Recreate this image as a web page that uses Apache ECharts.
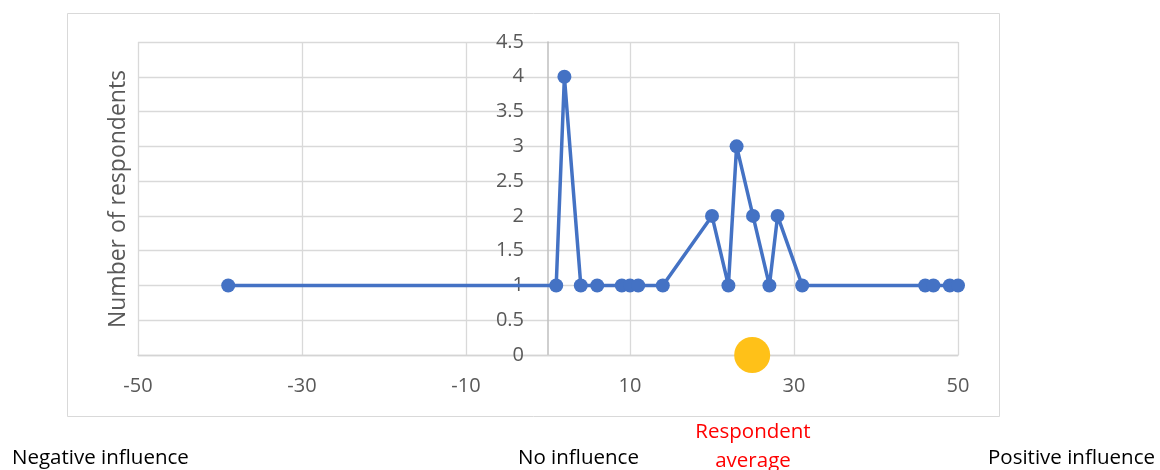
<!DOCTYPE html>
<html>
<head>
<meta charset="utf-8">
<script src="https://cdn.jsdelivr.net/npm/echarts@6/dist/echarts.min.js"></script>
<style>
  html, body { margin: 0; padding: 0; background: #fff; }
  #chart { width: 1160px; height: 470px; }
</style>
</head>
<body>
<div id="chart"></div>
<script>
// Influence score (x) and number of respondents (y)
const influenceScores = [-39, 1, 2, 4, 6, 9, 10, 11, 14, 20, 22, 23, 25, 27, 28, 31, 46, 47, 49, 50];
const respondentCounts = [1, 1, 4, 1, 1, 1, 1, 1, 1, 2, 1, 3, 2, 1, 2, 1, 1, 1, 1, 1];
const respondentAverage = [24.9];
const averageLevel = [0];
const yAxisTitle = 'Number of respondents';
const bottomLabels = ['Negative influence', 'No influence', 'Respondent\naverage', 'Positive influence'];

const lineData = influenceScores.map((x, i) => [x, respondentCounts[i]]);
const avgData = respondentAverage.map((x, i) => [x, averageLevel[i]]);

const FONT = '"Open Sans", "Liberation Sans", sans-serif';
const chart = echarts.init(document.getElementById('chart'), null, { renderer: 'canvas' });
chart.setOption({
  animation: false,
  backgroundColor: '#ffffff',
  grid: { left: 138, right: 202, top: 42, bottom: 115, containLabel: false },
  xAxis: {
    type: 'value', min: -50, max: 50, interval: 20,
    axisLine: { show: true, onZero: false, lineStyle: { color: '#D4D4D4', width: 1.3 } },
    axisTick: { show: false },
    splitLine: { show: true, lineStyle: { color: '#D9D9D9', width: 1.3 } },
    axisLabel: { color: '#595959', fontSize: 20, fontFamily: FONT, margin: 21 }
  },
  yAxis: {
    type: 'value', min: 0, max: 4.5, interval: 0.5,
    position: 'left', offset: -410,
    axisLine: { show: true, onZero: false, lineStyle: { color: '#BFBFBF', width: 1.5 } },
    axisTick: { show: false },
    splitLine: { show: true, lineStyle: { color: '#D9D9D9', width: 1.3 } },
    axisLabel: { color: '#595959', fontSize: 20, fontFamily: FONT, margin: 24 }
  },
  series: [
    {
      type: 'line', data: lineData,
      symbol: 'circle', symbolSize: 14,
      itemStyle: { color: '#4472C4', opacity: 1 },
      lineStyle: { color: '#4472C4', width: 3.5 },
      clip: false, z: 3
    },
    {
      type: 'scatter', data: avgData,
      symbol: 'circle', symbolSize: 36,
      itemStyle: { color: '#FFC118', opacity: 1 },
      clip: false, z: 4
    }
  ],
  graphic: [
    { type: 'rect', shape: { x: 67.5, y: 13.5, width: 932, height: 403 },
      style: { fill: 'none', stroke: '#D9D9D9', lineWidth: 1 }, silent: true, z: -1 },
    { type: 'text', x: 118, y: 199, rotation: Math.PI / 2,
      style: { text: yAxisTitle, fill: '#595959', font: '23px ' + FONT, textAlign: 'center', textVerticalAlign: 'middle' } },
    { type: 'text', x: 12, y: 458,
      style: { text: bottomLabels[0], fill: '#000', font: '20.5px ' + FONT, textAlign: 'left', textVerticalAlign: 'middle' } },
    { type: 'text', x: 518, y: 458,
      style: { text: bottomLabels[1], fill: '#000', font: '20.5px ' + FONT, textAlign: 'left', textVerticalAlign: 'middle' } },
    { type: 'text', x: 753, y: 447,
      style: { text: bottomLabels[2], fill: '#FF0000', font: '20.5px ' + FONT, textAlign: 'center', textVerticalAlign: 'middle', lineHeight: 29 } },
    { type: 'text', x: 988, y: 458,
      style: { text: bottomLabels[3], fill: '#000', font: '20.5px ' + FONT, textAlign: 'left', textVerticalAlign: 'middle' } }
  ]
});
</script>
</body>
</html>
